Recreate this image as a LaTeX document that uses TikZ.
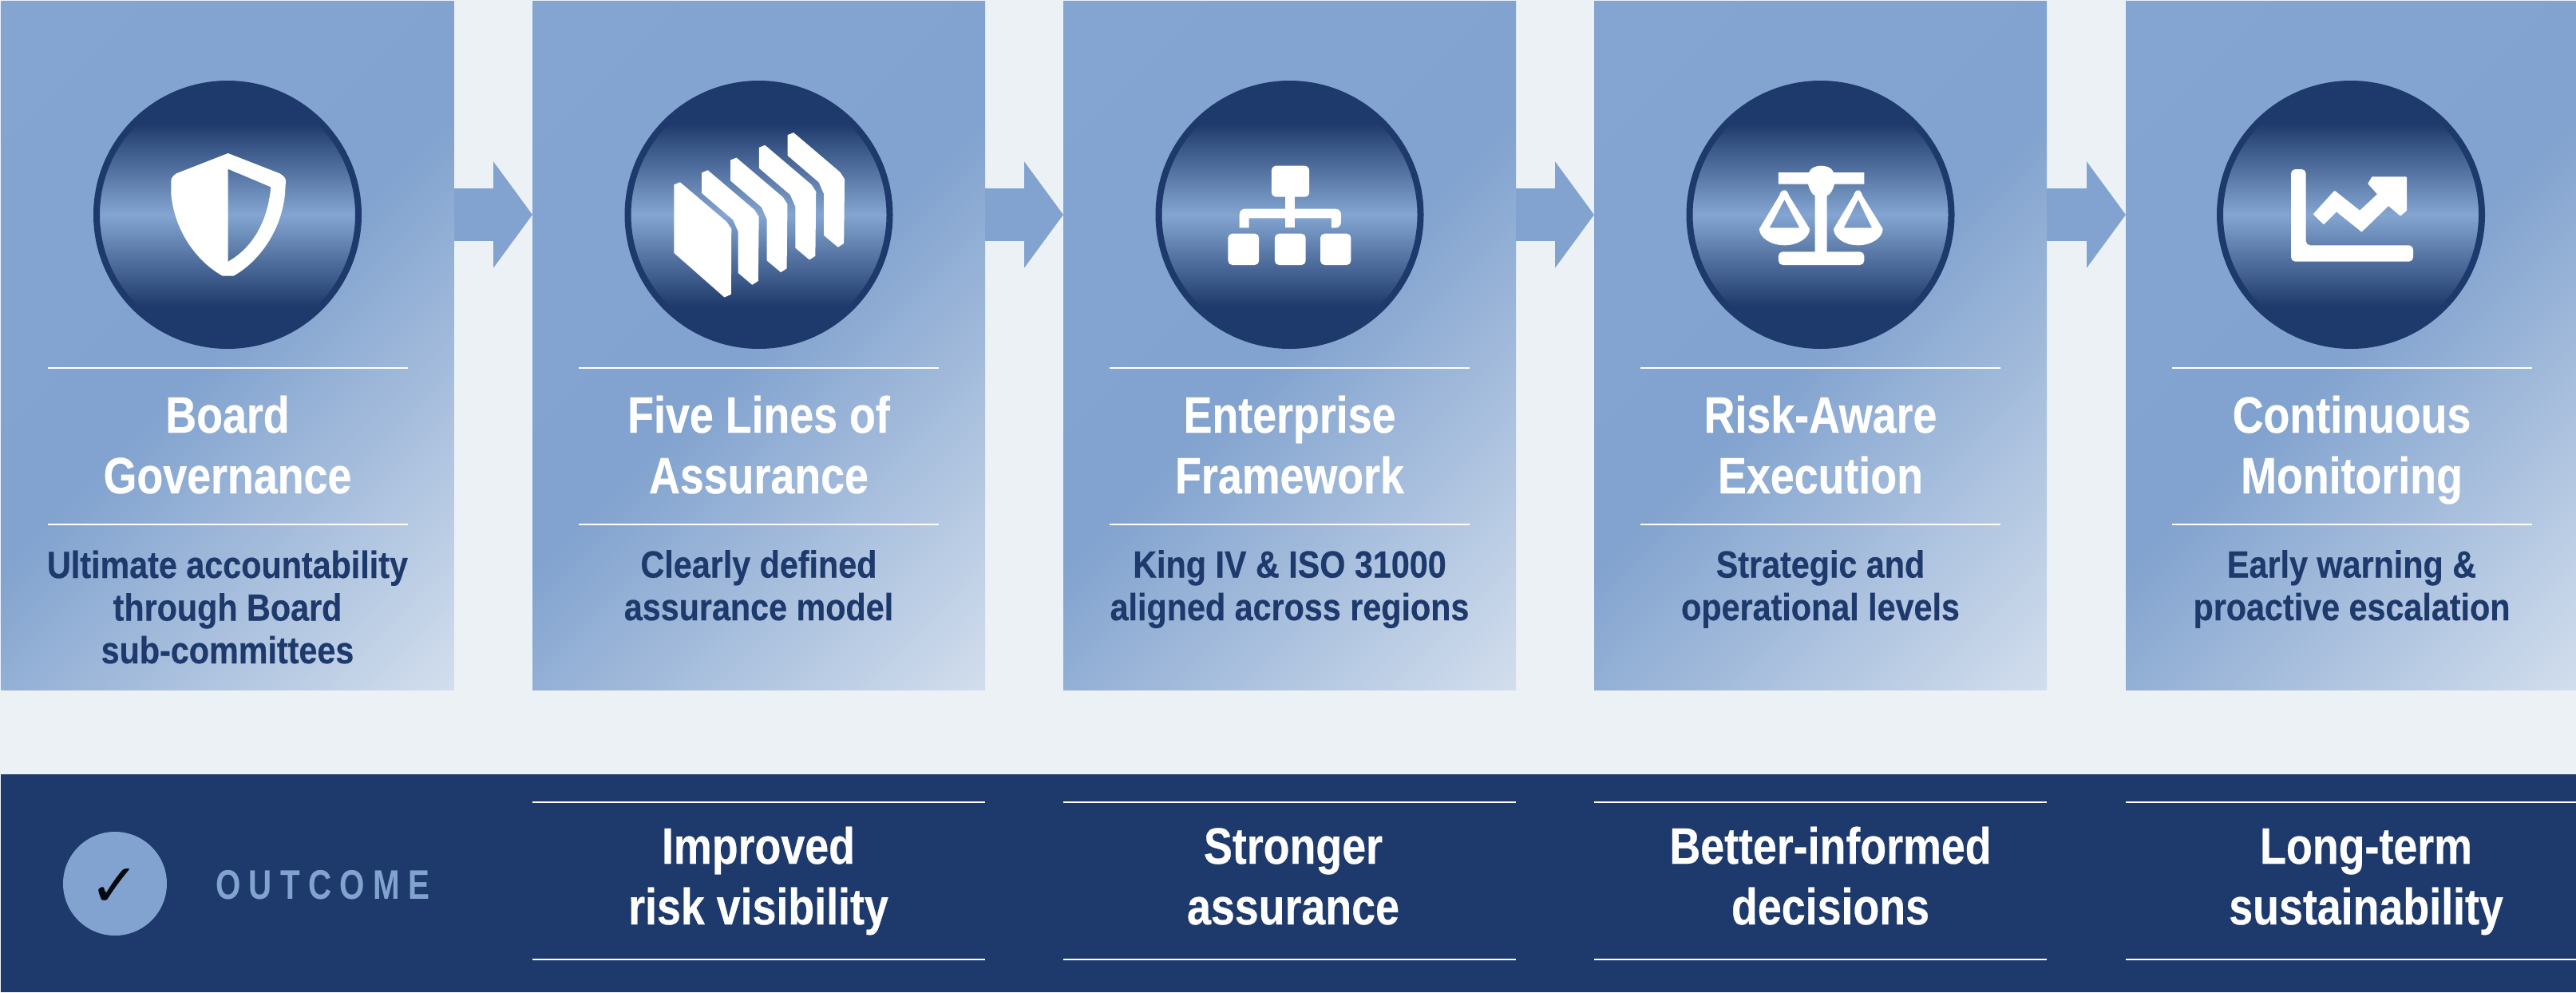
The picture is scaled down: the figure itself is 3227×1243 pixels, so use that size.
\documentclass[tikz,border=0pt]{standalone}
\usepackage{fontspec}
\usetikzlibrary{arrows.meta}
\setmainfont{Liberation Sans}
\newfontfamily\titlefont[FakeStretch=0.84,FakeBold=0.4]{Liberation Sans}
\newfontfamily\subfont[FakeStretch=0.87,FakeBold=0.4]{Liberation Sans}
\newfontfamily\outcomefont[FakeStretch=0.78,LetterSpace=20]{Liberation Sans}
\newfontfamily\checkfont{DejaVu Sans}
\definecolor{pagebg}{HTML}{ECF1F5}
\definecolor{navy}{HTML}{1E3A6C}
\definecolor{steel}{HTML}{82A3CF}
\definecolor{steeltop}{HTML}{84A5D1}
\definecolor{cardlight}{HTML}{D2DEED}
\pgfdeclareverticalshading{cardgrad}{100bp}{color(0bp)=(cardlight); color(14.6bp)=(cardlight); color(50bp)=(steel); color(85.4bp)=(steeltop); color(100bp)=(steeltop)}
\pgfdeclareverticalshading{discgrad}{100bp}{color(0bp)=(navy); color(32.5bp)=(navy); color(50bp)=(steeltop); color(67.5bp)=(navy); color(100bp)=(navy)}
\tikzset{
	cardbox/.style={shade,shading=cardgrad,shading angle=45,minimum width=425.25pt,minimum height=647.25pt,inner sep=0pt,outer sep=0pt},
	iconrim/.style={circle,shade,shading=discgrad,draw=navy,line width=6pt,minimum size=246pt,inner sep=0pt},
	flowarrow/.style={draw=steel,line width=49.5pt,-{Triangle[length=36.75pt,width=98.25pt,fill=steel]}},
	ruleline/.style={draw=white,line width=1.7pt},
	iconfill/.style={fill=white,draw=white,line width=1pt,line join=round},
	titletext/.style={anchor=base,align=center,text=white,inner sep=0pt,font=\titlefont\bfseries\fontsize{48}{57}\selectfont},
	subtext/.style={anchor=base,align=center,text=navy,inner sep=0pt,font=\subfont\bfseries\fontsize{35.6}{40.1}\selectfont}
}
\begin{document}
\begin{tikzpicture}[x=0.75pt,y=0.75pt,yscale=-1,xscale=1]
	\useasboundingbox (0,0) rectangle (3227,1243);
	\fill [pagebg] (0,0) rectangle (3227,1243);
	
	% Cards
	\node [cardbox] (card1) at (285,432.5) {};
	\node [cardbox] (card2) at (950.5,432.5) {};
	\node [cardbox] (card3) at (1615.5,432.5) {};
	\node [cardbox] (card4) at (2280.5,432.5) {};
	\node [cardbox] (card5) at (2946.5,432.5) {};
	% Icon discs
	\node [iconrim] (disc1) at (285,269) {};
	\node [iconrim] (disc2) at (950.5,269) {};
	\node [iconrim] (disc3) at (1615.5,269) {};
	\node [iconrim] (disc4) at (2280.5,269) {};
	\node [iconrim] (disc5) at (2945,269) {};
	% Arrows
	\draw [flowarrow] (card1.east |- disc1.center) -- (card2.west |- disc1.center);
	\draw [flowarrow] (card2.east |- disc2.center) -- (card3.west |- disc2.center);
	\draw [flowarrow] (card3.east |- disc3.center) -- (card4.west |- disc3.center);
	\draw [flowarrow] (card4.east |- disc4.center) -- (card5.west |- disc4.center);
	
	% Shield
	\fill [white,even odd rule] (285.7,192) -- (350.4,217.3) .. controls (355,220) and (358,223) .. (358,226.7) -- (357,243) .. controls (352,293) and (321,330) .. (292.4,345.7) -- (279,345.7) .. controls (250,330) and (219,293) .. (214.3,243) -- (214.3,226.7) .. controls (214.3,223) and (217,220) .. (221,217.3) -- cycle
		(285.7,211.7) -- (339.3,234.3) .. controls (335,283) and (312,313) .. (285.7,327.7) -- cycle;
	% Sheets
	\draw [iconfill] (845.1,231.7) -- (851.8,229) -- (909.8,278.3) -- (915.6,286.7) -- (915.2,368.3) -- (907.6,371.7) -- (845.1,316.7) -- cycle;
	\draw [iconfill] (879.9,216.7) -- (886.6,214) -- (944.6,263.3) -- (950,271.7) -- (949.1,351.7) -- (942.4,356) -- (925.4,341.7) -- (925.4,290) -- (918.8,275) -- (879.9,241.7) -- cycle;
	\draw [iconfill,shift={(35.8,-15.7)}] (879.9,216.7) -- (886.6,214) -- (944.6,263.3) -- (950,271.7) -- (949.1,351.7) -- (942.4,356) -- (925.4,341.7) -- (925.4,290) -- (918.8,275) -- (879.9,241.7) -- cycle;
	\draw [iconfill,shift={(71.6,-31.4)}] (879.9,216.7) -- (886.6,214) -- (944.6,263.3) -- (950,271.7) -- (949.1,351.7) -- (942.4,356) -- (925.4,341.7) -- (925.4,290) -- (918.8,275) -- (879.9,241.7) -- cycle;
	\draw [iconfill,shift={(107.4,-47.1)}] (879.9,216.7) -- (886.6,214) -- (944.6,263.3) -- (950,271.7) -- (949.1,351.7) -- (942.4,356) -- (925.4,341.7) -- (925.4,290) -- (918.8,275) -- (879.9,241.7) -- cycle;
	% Org chart
	\fill [white,rounded corners=4.5pt] (1592.9,207.7) rectangle (1640.2,246.7);
	\fill [white,rounded corners=4pt] (1538.4,292.7) rectangle (1577.2,332);
	\fill [white,rounded corners=4pt] (1596.9,292.7) rectangle (1635.7,332);
	\fill [white,rounded corners=4pt] (1654,292.7) rectangle (1692.4,332);
	\fill [white] (1609.8,246) rectangle (1621.9,285.3);
	\fill [white,rounded corners=5pt] (1552.7,285.3) -- (1552.7,261.7) -- (1679.9,261.7) -- (1679.9,285.3) [sharp corners] -- (1667.9,285.3) -- (1667.9,273.3) -- (1564.7,273.3) -- (1564.7,285.3) -- cycle;
	% Balance
	\fill [white] (2227.9,216) -- (2266,216) .. controls (2268,210) and (2275,207.7) .. (2281.2,207.7) .. controls (2288,207.7) and (2295,210) .. (2297,216) -- (2335.3,216) -- (2335.3,230.7) -- (2298,230.7) .. controls (2296,238) and (2293,244) .. (2288.7,245) -- (2288.7,316) -- (2273.7,316) -- (2273.7,245) .. controls (2270,244) and (2267,238) .. (2265,230.7) -- (2227.9,230.7) -- cycle;
	\fill [white,rounded corners=4pt] (2227.9,315.3) rectangle (2335.3,332);
	\fill [white,even odd rule] (2235.4,238.3) .. controls (2238,238.3) and (2240,241) .. (2241,245) -- (2267,286.7) .. controls (2267,298) and (2252,307.3) .. (2235.4,307.3) .. controls (2219,307.3) and (2203.9,298) .. (2203.9,286.7) -- (2229,245) .. controls (2230,241) and (2232,238.3) .. (2235.4,238.3) -- cycle
		(2235.4,250) -- (2254.2,285.3) -- (2216.7,285.3) -- cycle;
	\fill [white,even odd rule] (2327.8,238.3) .. controls (2330,238.3) and (2332,241) .. (2333,245) -- (2358.6,286.7) .. controls (2358.6,298) and (2344,307.3) .. (2327.8,307.3) .. controls (2311,307.3) and (2297,298) .. (2297,286.7) -- (2322,245) .. controls (2323,241) and (2325,238.3) .. (2327.8,238.3) -- cycle
		(2327.8,250) -- (2345,285.3) -- (2309.8,285.3) -- cycle;
	% Chart
	\fill [white,rounded corners=4pt] (2870,212) -- (2888.6,212) -- (2888.6,307.3) -- (3023,307.3) -- (3023,327.7) -- (2870,327.7) -- cycle;
	\draw [iconfill,line width=1.5pt] (2899,268.3) -- (2924.6,240) -- (2956.2,265) -- (2979.4,243.3) -- (2967.4,230) -- (2972,222.3) -- (3014,222.3) -- (3014,263.3) -- (3007,269.3) -- (2992,256.7) -- (2958.4,289.3) -- (2926.9,264) -- (2911,280) -- cycle;
	
	% Rules
	\draw [ruleline] (60,461) -- (511,461);
	\draw [ruleline] (60,657) -- (511,657);
	\draw [ruleline] (725,461) -- (1176,461);
	\draw [ruleline] (725,657) -- (1176,657);
	\draw [ruleline] (1390,461) -- (1841,461);
	\draw [ruleline] (1390,657) -- (1841,657);
	\draw [ruleline] (2055,461) -- (2506,461);
	\draw [ruleline] (2055,657) -- (2506,657);
	\draw [ruleline] (2721,461) -- (3172,461);
	\draw [ruleline] (2721,657) -- (3172,657);
	
	% Text Node
	\node [titletext] (title1) at (285,618) {Board\\Governance};
	\node [subtext] (sub1) at (285,831) {Ultimate accountability\\through Board\\sub-committees};
	% Text Node
	\node [titletext] (title2) at (950.5,618) {Five Lines of\\Assurance};
	\node [subtext] (sub2) at (950.5,777) {Clearly defined\\assurance model};
	% Text Node
	\node [titletext] (title3) at (1615.5,618) {Enterprise\\Framework};
	\node [subtext] (sub3) at (1615.5,777) {King IV \& ISO 31000\\aligned across regions};
	% Text Node
	\node [titletext] (title4) at (2280.5,618) {Risk-Aware\\Execution};
	\node [subtext] (sub4) at (2280.5,777) {Strategic and\\operational levels};
	% Text Node
	\node [titletext] (title5) at (2946,618) {Continuous\\Monitoring};
	\node [subtext] (sub5) at (2946,777) {Early warning \&\\proactive escalation};
	
	% Outcome band
	\fill [navy] (1,970) rectangle (3227,1243);
	\node [circle,fill=steel,minimum size=97.5pt,inner sep=0pt] (okdisc) at (144,1107) {};
	\node [inner sep=0pt,text=black!85!navy,font=\checkfont\fontsize{56}{56}\selectfont] (okmark) at (144,1112) {✓};
	\node [anchor=west,inner sep=0pt,text=steel,font=\outcomefont\bfseries\fontsize{38.8}{40}\selectfont] (okword) at (270,1109) {OUTCOME};
	\draw [ruleline] (667,1005) -- (1234,1005);
	\draw [ruleline] (667,1202) -- (1234,1202);
	\draw [ruleline] (1332,1005) -- (1899,1005);
	\draw [ruleline] (1332,1202) -- (1899,1202);
	\draw [ruleline] (1997,1005) -- (2564,1005);
	\draw [ruleline] (1997,1202) -- (2564,1202);
	\draw [ruleline] (2663,1005) -- (3227,1005);
	\draw [ruleline] (2663,1202) -- (3227,1202);
	% Text Node
	\node [titletext] (gain1) at (950,1158) {Improved\\risk visibility};
	\node [titletext] (gain2) at (1620,1158) {Stronger\\assurance};
	\node [titletext] (gain3) at (2293,1158) {Better-informed\\decisions};
	\node [titletext] (gain4) at (2964,1158) {Long-term\\sustainability};
\end{tikzpicture}
\end{document}
